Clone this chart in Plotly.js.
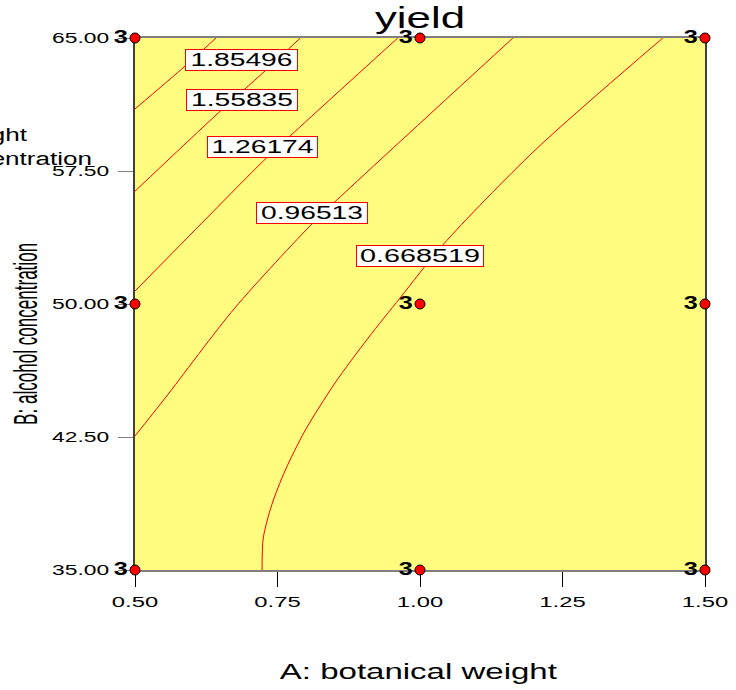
<!DOCTYPE html>
<html>
<head>
<meta charset="utf-8">
<script src="https://cdn.plot.ly/plotly-3.0.1.min.js"></script>
<style>
html, body { margin: 0; padding: 0; background: #ffffff; }
#chart { width: 736px; height: 690px; }
</style>
</head>
<body>
<div id="chart"></div>
<script>
// ---------------- data ----------------
const xTickVals = [0.50, 0.75, 1.00, 1.25, 1.50];
const yTickVals = [35.00, 42.50, 50.00, 57.50, 65.00];

// design points (A: botanical weight, B: alcohol concentration) and replicate counts
const designA = [0.5, 1.0, 1.5, 0.5, 1.0, 1.5, 0.5, 1.0, 1.5];
const designB = [35, 35, 35, 50, 50, 50, 65, 65, 65];
const replicates = ['3', '3', '3', '3', '3', '3', '3', '3', '3'];

// contour levels of yield
const levelText = ['1.85496', '1.55835', '1.26174', '0.96513', '0.668519'];

// contour lines
const c1A = [0.500, 0.588, 0.642];
const c1B = [61.00, 63.42, 65.00];
const c2A = [0.500, 0.646, 0.728, 0.790];
const c2B = [56.36, 60.77, 63.14, 65.00];
const c3A = [0.500, 0.626, 0.725, 0.772, 0.851, 0.961];
const c3B = [50.73, 54.85, 58.06, 59.47, 61.79, 65.00];
const c4A = [0.500, 0.553, 0.675, 0.812, 0.854, 1.163];
const c4B = [42.56, 44.70, 49.77, 54.57, 55.86, 65.00];
const c5A = [0.723, 0.725, 0.740, 0.763, 0.798, 0.851, 0.909, 0.965, 1.040, 1.202, 1.426];
const c5B = [35.00, 36.80, 38.68, 40.58, 42.84, 45.55, 48.08, 50.34, 53.33, 58.68, 65.00];

// where the level labels sit
const labelA = [0.687, 0.688, 0.724, 0.811, 1.000];
const labelB = [63.76, 61.50, 58.83, 55.16, 52.71];

// ---------------- styling ----------------
const FONT = 'Liberation Sans, Arial, sans-serif';
const RED = '#ff0000';

const contourA = [c1A, c2A, c3A, c4A, c5A];
const contourB = [c1B, c2B, c3B, c4B, c5B];

const traces = contourA.map((a, i) => ({
  type: 'scatter', mode: 'lines', x: a, y: contourB[i],
  line: { color: RED, width: 1, shape: 'spline', smoothing: 0.8 },
  hoverinfo: 'skip', showlegend: false
}));

traces.push({
  type: 'scatter', mode: 'markers+text',
  x: designA, y: designB, text: replicates,
  textposition: 'middle left',
  textfont: { family: FONT, size: 18, color: '#000000', weight: 'bold' },
  marker: { color: RED, size: 10, line: { color: '#000000', width: 1 } },
  cliponaxis: false, hoverinfo: 'skip', showlegend: false
});

const labelWidths = [111, 110, 109, 110, 126];
const annotations = levelText.map((t, i) => ({
  x: labelA[i], y: labelB[i], xref: 'x', yref: 'y', text: t, showarrow: false,
  bgcolor: '#ffffff', bordercolor: RED, borderwidth: 1, borderpad: 0,
  width: labelWidths[i], height: 20,
  font: { family: FONT, size: 18, color: '#000000' },
  xanchor: 'center', yanchor: 'middle'
}));
const annLen = [102, 102, 102, 102, 120];

// axis titles
annotations.push({
  x: 0.4974, y: 0, xref: 'paper', yref: 'paper', yshift: -101,
  text: 'A: botanical weight', showarrow: false,
  font: { family: FONT, size: 22, color: '#000000' },
  xanchor: 'center', yanchor: 'middle'
});
annLen.push(277);
annotations.push({
  x: -0.193, y: 0.4436, xref: 'paper', yref: 'paper',
  text: 'B: alcohol concentration', showarrow: false, textangle: -90,
  font: { family: FONT, size: 33, color: '#000000' },
  xanchor: 'center', yanchor: 'middle'
});
annLen.push(182);
// factor names partly cut off at the left edge
annotations.push({
  x: -0.1877, y: 0.8182, xref: 'paper', yref: 'paper',
  text: 'A: botanical weight', showarrow: false, width: 219, borderpad: 0,
  font: { family: FONT, size: 18, color: '#000000' },
  xanchor: 'right', yanchor: 'middle'
});
annLen.push(219);
annotations.push({
  x: -0.0737, y: 0.7731, xref: 'paper', yref: 'paper',
  text: 'B: alcohol concentration', showarrow: false, width: 278, borderpad: 0,
  font: { family: FONT, size: 18, color: '#000000' },
  xanchor: 'right', yanchor: 'middle'
});
annLen.push(278);

const layout = {
  width: 736, height: 690,
  margin: { l: 135, r: 31, t: 38, b: 120, pad: 0 },
  paper_bgcolor: '#ffffff', plot_bgcolor: '#fffc80',
  showlegend: false,
  title: {
    text: 'yield', font: { family: FONT, size: 30, color: '#000000' },
    x: 0.5, xref: 'paper', xanchor: 'center',
    y: 0.9746, yref: 'container', yanchor: 'middle'
  },
  xaxis: {
    range: [0.5, 1.5], tickvals: xTickVals, tickformat: '.2f',
    ticks: 'outside', ticklen: 15, tickwidth: 1, tickcolor: '#000000',
    showline: true, linecolor: '#808080', linewidth: 2, mirror: true,
    showgrid: false, zeroline: false, layer: 'below traces',
    tickfont: { family: FONT, size: 14, color: '#000000' },
    ticklabelstandoff: 3, fixedrange: true
  },
  yaxis: {
    range: [35, 65], tickvals: yTickVals, tickformat: '.2f',
    ticks: 'outside', ticklen: 15, tickwidth: 1, tickcolor: '#808080',
    showline: true, linecolor: '#404040', linewidth: 2, mirror: true,
    showgrid: false, zeroline: false, layer: 'below traces',
    tickfont: { family: FONT, size: 14, color: '#000000' },
    ticklabelstandoff: 6, fixedrange: true
  },
  annotations: annotations
};

Plotly.newPlot('chart', traces, layout, { staticPlot: true, displayModeBar: false }).then(gd => {
  const fit = (el, len) => {
    el.setAttribute('textLength', len.toFixed(1));
    el.setAttribute('lengthAdjust', 'spacingAndGlyphs');
  };
  const scale = (sel, f) => gd.querySelectorAll(sel).forEach(t => {
    const L = t.getComputedTextLength();
    if (L > 0) fit(t, L * f);
  });
  scale('.xtick text', 1.7);
  scale('.ytick text', 1.63);
  scale('text.gtitle', 1.46);
  scale('.textpoint text', 1.4);
  gd.querySelectorAll('g.annotation').forEach(g => {
    const i = +g.getAttribute('data-index');
    const t = g.querySelector('text.annotation-text');
    if (t && annLen[i]) fit(t, annLen[i]);
  });
});
</script>
</body>
</html>
